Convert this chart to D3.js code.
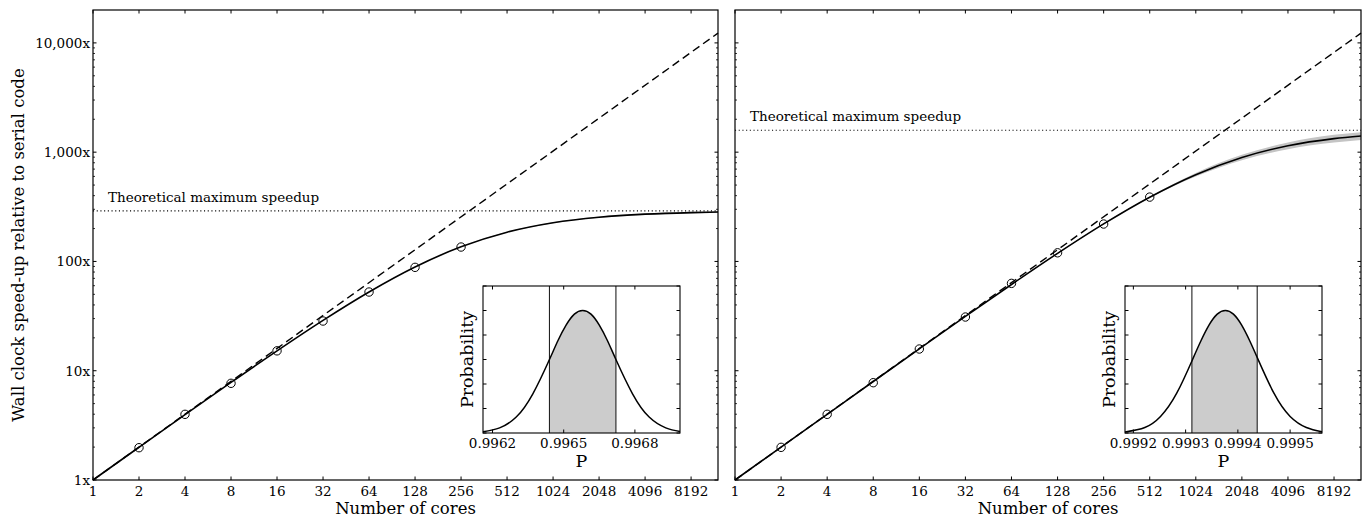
<!DOCTYPE html>
<html><head><meta charset="utf-8">
<script src="https://cdn.jsdelivr.net/npm/d3@7"></script>
<style>body{margin:0;background:#fff} text{font-family:"DejaVu Serif",serif;fill:#000}</style>
</head><body><svg id="c" width="1369" height="517"></svg>
<script>
// ---------- data ----------
const coreTicks = [1,2,4,8,16,32,64,128,256,512,1024,2048,4096,8192];
const coreTickLabels = ["1","2","4","8","16","32","64","128","256","512","1024","2048","4096","8192"];
const speedTicks = [1,10,100,1000,10000];
const speedTickLabels = ["1x","10x","100x","1,000x","10,000x"];
const coresDomain = [1, 12288];
const speedDomain = [1, 20000];

const curveCores = [1,2,4,8,16,32,64,128,256,512,1024,2048,4096,8192,12288];
const idealCores = [1, 12288];
const idealSpeed = [1, 12288];

// left panel
const leftFit  = [1,1.993,3.959,7.811,15.21,28.91,52.57,89.0,136.2,185.3,226.1,254.0,270.8,280.0,283.2];
const leftLow  = [1,1.993,3.958,7.80,15.18,28.85,52.4,88.6,135.4,183.8,223.5,250.5,266.5,275.3,278.6];
const leftHigh = [1,1.993,3.960,7.82,15.24,28.97,52.75,89.4,137.0,186.8,228.7,257.5,275.1,284.7,287.8];
const leftObsCores = [2,4,8,16,32,64,128,256];
const leftObs = [1.975,3.99,7.67,15.2,28.5,52.5,88.3,135.5];
const leftMaxSpeed = 290;

// right panel
const rightFit  = [1,1.999,3.990,7.965,15.85,31.39,61.56,118.5,220.6,387.3,622.7,894.5,1144,1330,1406];
const rightLow  = [1,1.999,3.990,7.96,15.83,31.33,61.3,117.6,217.8,382,600,845,1065,1225,1290];
const rightHigh = [1,1.999,3.990,7.97,15.87,31.45,61.8,119.4,223.4,393,646,945,1225,1440,1525];
const rightObsCores = [2,4,8,16,32,64,128,256,512];
const rightObs = [1.99,3.99,7.77,15.8,31,63,120,220,388];
const rightMaxSpeed = 1587;

// insets: posterior of P
const leftP    = [0.99616,0.99623,0.99630,0.99637,0.99644,0.996476,0.99651,0.996545,0.99658,0.996615,0.99665,0.996684,0.99672,0.99679,0.99686,0.99693,0.99699];
const leftDens = [0.011,0.042,0.13,0.32,0.60,0.755,0.88,0.97,1.0,0.97,0.88,0.755,0.60,0.32,0.13,0.042,0.013];
const leftPDomain = [0.99616, 0.99699];
const leftPTicks = [0.9962, 0.9965, 0.9968];
const leftPTickLabels = ["0.9962","0.9965","0.9968"];
const leftCI = [0.99644, 0.99672];

const rightP    = [0.999184,0.999222,0.999252,0.999283,0.999314,0.9993296,0.999345,0.9993605,0.999376,0.9993915,0.999407,0.9994224,0.999438,0.999469,0.999500,0.999531,0.999561];
const rightDens = [0.008,0.045,0.135,0.325,0.607,0.755,0.882,0.97,1.0,0.97,0.882,0.755,0.607,0.325,0.135,0.045,0.011];
const rightPDomain = [0.999184, 0.999561];
const rightPTicks = [0.9992, 0.9993, 0.9994, 0.9995];
const rightPTickLabels = ["0.9992","0.9993","0.9994","0.9995"];
const rightCI = [0.999312, 0.999437];

const densTicks = [0,0.2,0.4,0.6,0.8,1.0,1.2];
const densDomain = [0, 1.2];

// ---------- drawing ----------
const svg = d3.select("#c");
const TOP = 10, BOT = 480;
let clipId = 0;

function drawPanel(o) {
  const g = svg.append("g");
  const x = d3.scaleLog().base(2).domain(coresDomain).range([o.x0, o.x1]);
  const y = d3.scaleLog().domain(speedDomain).range([BOT, TOP]);

  const band = curveCores.map((c,i)=>({c, lo:o.low[i], hi:o.high[i]}));
  g.append("path").datum(band)
    .attr("d", d3.area().x(d=>x(d.c)).y0(d=>y(d.lo)).y1(d=>y(d.hi)).curve(d3.curveMonotoneX))
    .attr("fill", "#c4c4c4").attr("stroke","none");

  g.append("line").attr("x1", o.x0).attr("x2", o.x1)
    .attr("y1", y(o.maxSpeed)).attr("y2", y(o.maxSpeed))
    .attr("stroke","#000").attr("stroke-width",1.1).attr("stroke-dasharray","1.1,2.6");
  g.append("text").attr("x", o.x0 + 15).attr("y", y(o.maxSpeed) - 9)
    .attr("font-size", 13.5).text("Theoretical maximum speedup");

  g.append("path").datum(idealCores.map((c,i)=>[c, idealSpeed[i]]))
    .attr("d", d3.line().x(d=>x(d[0])).y(d=>y(d[1])))
    .attr("fill","none").attr("stroke","#000").attr("stroke-width",1.4).attr("stroke-dasharray","8,4.5");

  g.append("path").datum(curveCores.map((c,i)=>[c, o.fit[i]]))
    .attr("d", d3.line().x(d=>x(d[0])).y(d=>y(d[1])).curve(d3.curveMonotoneX))
    .attr("fill","none").attr("stroke","#000").attr("stroke-width",1.6);

  g.selectAll("circle.obs").data(o.obsCores.map((c,i)=>[c, o.obs[i]])).enter()
    .append("circle").attr("cx", d=>x(d[0])).attr("cy", d=>y(d[1])).attr("r", 4.2)
    .attr("fill","none").attr("stroke","#000").attr("stroke-width",1);

  g.append("rect").attr("x", o.x0).attr("y", TOP).attr("width", o.x1-o.x0).attr("height", BOT-TOP)
    .attr("fill","none").attr("stroke","#000").attr("stroke-width",1.2);

  coreTicks.forEach((t,i)=>{
    const px = x(t);
    g.append("line").attr("x1",px).attr("x2",px).attr("y1",BOT).attr("y2",BOT-3.5).attr("stroke","#000");
    g.append("line").attr("x1",px).attr("x2",px).attr("y1",TOP).attr("y2",TOP+3.5).attr("stroke","#000");
    g.append("text").attr("x",px).attr("y",BOT+16).attr("text-anchor","middle").attr("font-size",13.5).text(coreTickLabels[i]);
  });
  speedTicks.forEach((t,i)=>{
    const py = y(t);
    g.append("line").attr("x1",o.x0).attr("x2",o.x0+3.5).attr("y1",py).attr("y2",py).attr("stroke","#000");
    g.append("line").attr("x1",o.x1).attr("x2",o.x1-3.5).attr("y1",py).attr("y2",py).attr("stroke","#000");
    if (o.yLabels) g.append("text").attr("x",o.x0-3).attr("y",py).attr("dy","0.36em")
      .attr("text-anchor","end").attr("font-size",13.5).text(speedTickLabels[i]);
  });
  const minor = [];
  for (let e=0;e<=4;e++) for (let m=2;m<=9;m++){ const v=m*Math.pow(10,e); if(v<speedDomain[1]) minor.push(v); }
  minor.forEach(v=>{
    const py=y(v);
    g.append("line").attr("x1",o.x0).attr("x2",o.x0+2).attr("y1",py).attr("y2",py).attr("stroke","#000").attr("stroke-width",0.8);
    g.append("line").attr("x1",o.x1).attr("x2",o.x1-2).attr("y1",py).attr("y2",py).attr("stroke","#000").attr("stroke-width",0.8);
  });

  g.append("text").attr("x",(o.x0+o.x1)/2).attr("y",514).attr("text-anchor","middle")
    .attr("font-size",16.5).text("Number of cores");
  if (o.yLabels) g.append("text").attr("transform",`translate(24,${(TOP+BOT)/2}) rotate(-90)`)
    .attr("text-anchor","middle").attr("font-size",16.5).text("Wall clock speed-up relative to serial code");

  const ins = o.inset;
  const IT = 286, IB = 433;
  const ix = d3.scaleLinear().domain(ins.domain).range([ins.x0, ins.x1]);
  const iy = d3.scaleLinear().domain(densDomain).range([IB, IT]);
  const ig = g.append("g");
  ig.append("rect").attr("x",ins.x0).attr("y",IT).attr("width",ins.x1-ins.x0).attr("height",IB-IT).attr("fill","#fff");
  const pts = ins.P.map((p,i)=>[p, ins.dens[i]]);
  const id = "clip"+(clipId++);
  ig.append("clipPath").attr("id",id).append("rect")
    .attr("x",ix(ins.ci[0])).attr("y",IT).attr("width",ix(ins.ci[1])-ix(ins.ci[0])).attr("height",IB-IT);
  ig.append("path").datum(pts).attr("clip-path",`url(#${id})`)
    .attr("d", d3.area().x(d=>ix(d[0])).y0(IB).y1(d=>iy(d[1])).curve(d3.curveNatural))
    .attr("fill","#cccccc");
  ins.ci.forEach(v=>{
    ig.append("line").attr("x1",ix(v)).attr("x2",ix(v)).attr("y1",IT).attr("y2",IB)
      .attr("stroke","#222").attr("stroke-width",1.1);
  });
  ig.append("path").datum(pts)
    .attr("d", d3.line().x(d=>ix(d[0])).y(d=>iy(d[1])).curve(d3.curveNatural))
    .attr("fill","none").attr("stroke","#000").attr("stroke-width",1.5);
  ig.append("rect").attr("x",ins.x0).attr("y",IT).attr("width",ins.x1-ins.x0).attr("height",IB-IT)
    .attr("fill","none").attr("stroke","#000").attr("stroke-width",1.1);
  ins.ticks.forEach((t,i)=>{
    const px = ix(t);
    ig.append("line").attr("x1",px).attr("x2",px).attr("y1",IB).attr("y2",IB-3.5).attr("stroke","#000");
    ig.append("line").attr("x1",px).attr("x2",px).attr("y1",IT).attr("y2",IT+3.5).attr("stroke","#000");
    ig.append("text").attr("x",px).attr("y",IB+15).attr("text-anchor","middle").attr("font-size",13.5).text(ins.tickLabels[i]);
  });
  densTicks.forEach(t=>{
    const py = iy(t);
    ig.append("line").attr("x1",ins.x0).attr("x2",ins.x0+3.5).attr("y1",py).attr("y2",py).attr("stroke","#000");
    ig.append("line").attr("x1",ins.x1).attr("x2",ins.x1-3.5).attr("y1",py).attr("y2",py).attr("stroke","#000");
  });
  ig.append("text").attr("x",(ins.x0+ins.x1)/2).attr("y",467).attr("text-anchor","middle").attr("font-size",17.5).text("P");
  ig.append("text").attr("transform",`translate(${ins.x0-10},${(IT+IB)/2}) rotate(-90)`)
    .attr("text-anchor","middle").attr("font-size",17.5).text("Probability");
}

drawPanel({x0:93, x1:718, fit:leftFit, low:leftLow, high:leftHigh, obsCores:leftObsCores, obs:leftObs,
  maxSpeed:leftMaxSpeed, yLabels:true,
  inset:{x0:483, x1:680, domain:leftPDomain, ticks:leftPTicks, tickLabels:leftPTickLabels, P:leftP, dens:leftDens, ci:leftCI}});
drawPanel({x0:735, x1:1361, fit:rightFit, low:rightLow, high:rightHigh, obsCores:rightObsCores, obs:rightObs,
  maxSpeed:rightMaxSpeed, yLabels:false,
  inset:{x0:1125, x1:1322, domain:rightPDomain, ticks:rightPTicks, tickLabels:rightPTickLabels, P:rightP, dens:rightDens, ci:rightCI}});
</script></body></html>
